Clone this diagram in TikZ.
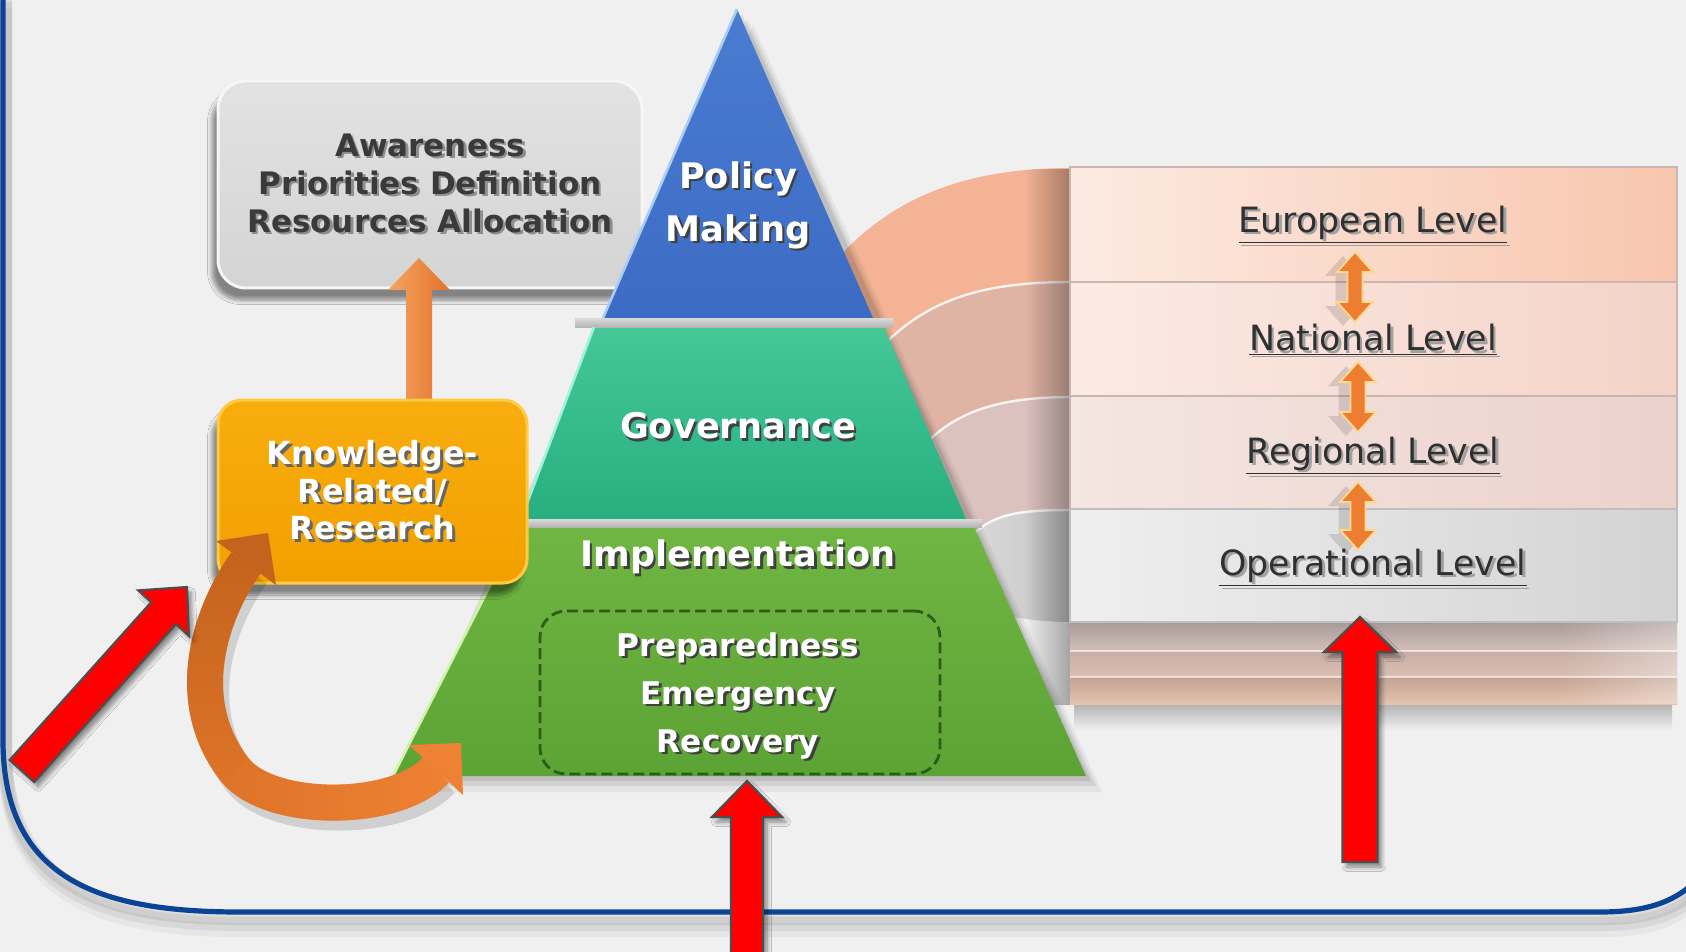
\documentclass[tikz,border=0pt]{standalone}
\usepackage{fontspec}
\setmainfont{DejaVu Sans}
\usetikzlibrary{shadows.blur,fadings}
\definecolor{bgc}{HTML}{F0F0F0}
\definecolor{frameblue}{HTML}{0B4496}
\definecolor{awtop}{HTML}{E2E2E2}
\definecolor{awbot}{HTML}{D4D4D4}
\definecolor{awborder}{HTML}{F6F6F6}
\definecolor{awtext}{HTML}{3A3A3A}
\definecolor{awsh}{HTML}{8E8E8E}
\definecolor{kntop}{HTML}{F8AD0E}
\definecolor{knbot}{HTML}{F2A000}
\definecolor{knborder}{HTML}{FFCB45}
\definecolor{orL}{HTML}{F6A462}
\definecolor{orR}{HTML}{E2732A}
\definecolor{blA}{HTML}{4A7CD2}
\definecolor{blB}{HTML}{3C6BC3}
\definecolor{hlblue}{HTML}{A9CDF5}
\definecolor{teA}{HTML}{45C797}
\definecolor{teB}{HTML}{27AF80}
\definecolor{hlteal}{HTML}{9FF2DE}
\definecolor{grA}{HTML}{70B642}
\definecolor{grB}{HTML}{5CA335}
\definecolor{hlgreen}{HTML}{CFF5A8}
\definecolor{sepA}{HTML}{DADADA}
\definecolor{sepB}{HTML}{B5B5B5}
\definecolor{dashgreen}{HTML}{2D5C18}
\definecolor{bandA}{HTML}{F3B394}
\definecolor{bandB}{HTML}{E0B4A5}
\definecolor{bandC}{HTML}{DCC2BF}
\definecolor{bandDa}{HTML}{DCDCDC}
\definecolor{bandDb}{HTML}{C4C4C4}
\definecolor{euA}{HTML}{FCEAE2}
\definecolor{euB}{HTML}{F8C6AE}
\definecolor{naA}{HTML}{FBEAE4}
\definecolor{naB}{HTML}{F4D3C8}
\definecolor{reA}{HTML}{F4E6E2}
\definecolor{reB}{HTML}{ECD1CB}
\definecolor{opA}{HTML}{EFEFEF}
\definecolor{opB}{HTML}{D3D3D3}
\definecolor{rowline}{HTML}{C9B6AF}
\definecolor{thAa}{HTML}{A89A98}
\definecolor{thAb}{HTML}{D3BFB8}
\definecolor{thBa}{HTML}{C6ADA5}
\definecolor{thBb}{HTML}{DCBFB2}
\definecolor{thCa}{HTML}{C2A293}
\definecolor{thCb}{HTML}{E6C3AF}
\definecolor{dao}{HTML}{ED7D31}
\definecolor{daedge}{HTML}{FFD88F}
\definecolor{arrred}{HTML}{FF0000}
\definecolor{redge}{HTML}{4D4D4D}
\definecolor{cvA}{HTML}{C4631D}
\definecolor{cvM}{HTML}{DE7429}
\definecolor{cvB}{HTML}{EF8134}
\definecolor{txtdark}{HTML}{303030}
\definecolor{lvsh}{HTML}{A0A0A0}
\tikzfading[name=fadeleft, left color=transparent!100, right color=transparent!0]
\tikzfading[name=fadedown, top color=transparent!0, bottom color=transparent!100]
\tikzfading[name=faderight, left color=transparent!100, right color=transparent!0]
\newcommand{\tsh}[2]{\rlap{\kern1.3pt\raisebox{-1.3pt}{\textcolor{#1}{#2}}}#2}
\begin{document}
\begin{tikzpicture}[x=0.5pt,y=-0.5pt,line join=miter,
  redarrow/.style={fill=arrred, draw=redge, line width=1.1pt,
     blur shadow={shadow xshift=2pt, shadow yshift=-2.5pt, shadow blur steps=6, shadow opacity=45}},
  dblarrow/.style={fill=dao, draw=daedge, line width=0.9pt},
  lvl/.style={font=\fontsize{17.4}{20}\selectfont, text=txtdark, inner sep=0pt},
  pyr/.style={font=\bfseries\fontsize{17.6}{26.5}\selectfont, text=white, align=center, inner sep=0pt},
  pyrsub/.style={font=\bfseries\fontsize{15.6}{24}\selectfont, text=white, align=center, inner sep=0pt},
  rowbox/.style={draw=rowline, line width=0.6pt}]

\useasboundingbox (0,0) rectangle (1686,952);
\fill[bgc] (0,0) rectangle (1686,952);

% ---------- frame ----------
\foreach \s/\o in {9/0.04,6/0.06,3/0.08}{
  \draw[black, opacity=\o, line width=7pt, transform canvas={shift={(1pt,-\s pt)}}]
    (3,-10) -- (3,740) .. controls (3,880) and (100,912) .. (240,912) -- (1600,912) .. controls (1660,912) and (1690,895) .. (1712,860);
}
\draw[frameblue, line width=2.6pt]
    (3,-10) -- (3,740) .. controls (3,880) and (100,912) .. (240,912) -- (1600,912) .. controls (1660,912) and (1690,895) .. (1712,860);

% ---------- arcs (ribbons) ----------
\fill[bandA] (1072,168) .. controls (960,168) and (880,200) .. (820,280) -- (820,420) -- (1072,420) -- cycle;
\fill[bandB] (1072,282) .. controls (980,282) and (920,300) .. (870,360) -- (870,520) -- (1072,520) -- cycle;
\draw[white, opacity=.85, line width=1.2pt] (1072,282) .. controls (980,282) and (920,300) .. (870,360);
\fill[bandC] (1072,397) .. controls (990,397) and (940,415) .. (905,470) -- (905,560) -- (1072,560) -- cycle;
\draw[white, opacity=.85, line width=1.2pt] (1072,397) .. controls (990,397) and (940,415) .. (905,470);
\shade[left color=bandDa, right color=bandDb] (1072,510) .. controls (1010,510) and (985,515) .. (960,550) -- (960,600) .. controls (990,615) and (1030,622) .. (1072,622) -- cycle;
\draw[white, opacity=.85, line width=1.2pt] (1072,510) .. controls (1010,510) and (985,515) .. (960,550);
\fill[black, opacity=0.32, path fading=fadeleft] (1025,169) rectangle (1071,705);

% ---------- level stack ----------
\shade[top color=black!30, bottom color=bgc] (1074,704) rectangle (1672,730);
\shade[top color=thAa, bottom color=thAb] (1070,622) rectangle (1677,651);
\shade[top color=thBa, bottom color=thBb] (1070,651) rectangle (1677,677);
\shade[top color=thCa, bottom color=thCb] (1070,677) rectangle (1677,704);
\fill[white, opacity=.35, path fading=faderight] (1560,622) rectangle (1677,704);
\draw[white, opacity=.6, line width=0.8pt] (1070,651) -- (1677,651) (1070,677) -- (1677,677);
\shade[left color=euA, right color=euB] (1070,167) rectangle (1677,282);
\shade[left color=naA, right color=naB] (1070,282) rectangle (1677,396);
\shade[left color=reA, right color=reB] (1070,396) rectangle (1677,509);
\shade[left color=opA, right color=opB] (1070,509) rectangle (1677,622);
\draw[rowbox] (1070,167) rectangle (1677,282);
\draw[rowbox] (1070,282) rectangle (1677,396);
\draw[rowbox] (1070,396) rectangle (1677,509);
\draw[draw=black!25, line width=0.6pt] (1070,509) rectangle (1677,622);

% ---------- awareness box ----------
\node[draw=awborder, line width=1.5pt, rounded corners=14pt, minimum width=212pt, minimum height=103.5pt,
      top color=awtop, bottom color=awbot, align=center, text=awtext,
      font=\bfseries\fontsize{15.5}{19}\selectfont,
      blur shadow={shadow xshift=-3pt, shadow yshift=-6pt, shadow blur steps=8, shadow opacity=45}]
   (aw) at (430,184.5) {\tsh{awsh}{Awareness}\\ \tsh{awsh}{Priorities Definition}\\ \tsh{awsh}{Resources Allocation}};

% ---------- up arrow knowledge -> awareness ----------
\coordinate (upTip) at (419,258);
\coordinate (upFoot) at (419,404);
\shade[left color=orL, right color=orR] (upTip) -- ++(31,32) -- ++(-18,0) -- (432,404) -- (406,404) -- (406,290) -- (388,290) -- cycle;

% ---------- pyramid ----------
\foreach \s/\o in {8/0.05,5/0.07,2.5/0.09}{
  \fill[black, opacity=\o, transform canvas={shift={(\s pt,-\s pt)}}] (737,9) -- (1086,776) -- (393,776) -- cycle;
}
\shade[top color=blA, bottom color=blB] (737,9) -- (873,318) -- (603,318) -- cycle;
\shade[top color=teA, bottom color=teB] (594,327) -- (884,327) -- (966,519) -- (521,519) -- cycle;
\shade[top color=grA, bottom color=grB] (520,527) -- (974,527) -- (1086,776) -- (393,776) -- cycle;
\shade[top color=sepA, bottom color=sepB] (575,318) rectangle (893,327);
\shade[top color=sepA, bottom color=sepB] (515,519) rectangle (982,527);
\draw[hlblue, line width=1.3pt] (737,9) -- (603,318);
\draw[hlteal, line width=1.3pt] (594,327) -- (521,519);
\draw[hlgreen, line width=1.3pt] (520,527) -- (393,776);

\node[pyr] (policy) at (738,206.5) {\tsh{black!75}{Policy}\\ \tsh{black!75}{Making}};
\node[pyr] (gov) at (738,427) {\tsh{black!75}{Governance}};
\node[pyr] (impl) at (738,558) {\tsh{black!75}{Implementation}};
\node[draw=dashgreen, dash pattern=on 5.5pt off 2.5pt, line width=1.4pt, rounded corners=13pt,
      minimum width=200pt, minimum height=81.5pt] (dbox) at (740,692.5) {};
\node[pyrsub] (prep) at (738,697) {\tsh{black!75}{Preparedness}\\ \tsh{black!75}{Emergency}\\ \tsh{black!75}{Recovery}};

% ---------- knowledge box ----------
\node[draw=knborder, line width=1.5pt, rounded corners=12pt, minimum width=154.5pt, minimum height=91.5pt,
      top color=kntop, bottom color=knbot, align=center, text=white,
      font=\bfseries\fontsize{15.9}{18.8}\selectfont,
      blur shadow={shadow xshift=-3pt, shadow yshift=-6pt, shadow blur steps=8, shadow opacity=45}]
   (kn) at (372.5,491.5) {\tsh{black!60}{Knowledge-}\\ \tsh{black!60}{Related/}\\ \tsh{black!60}{Research}};

% ---------- curved orange arrow (knowledge <-> implementation) ----------
\coordinate (cvTop) at (246,563);
\coordinate (cvBot) at (436,770);
\draw[black, opacity=.13, line width=18pt, transform canvas={shift={(3pt,-5pt)}}]
   (cvTop) .. controls (211,612) and (180,700) .. (235,770) .. controls (269,813) and (395,814) .. (cvBot);
\draw[cvM, line width=18pt] (cvTop) .. controls (211,612) and (180,700) .. (235,770) .. controls (269,813) and (395,814) .. (cvBot);
\draw[cvA, line width=18pt, path fading=fadedown] (cvTop) .. controls (211,612) and (180,700) .. (235,770);
\draw[cvB, line width=18pt, path fading=faderight] (235,770) .. controls (269,813) and (395,814) .. (cvBot);
\fill[cvA] (216,541) -- (268,533) -- (276,585) -- cycle;
\fill[cvB] (409,745) -- (461,743) -- (463,795) -- cycle;

% ---------- red arrows ----------
\path[redarrow] (9.7,760) -- (151.3,602.1) -- (138.3,590.4) -- (187,587) -- (188.9,635.8) -- (175.9,624.1) -- (34.3,782) -- cycle;
\path[redarrow] (747,781) -- (782,817) -- (763,817) -- (763,968) -- (731,968) -- (731,817) -- (712,817) -- cycle;
\path[redarrow] (1360,617) -- (1396,652) -- (1377.5,652) -- (1377.5,862) -- (1342.5,862) -- (1342.5,652) -- (1324,652) -- cycle;

% ---------- level labels & double arrows ----------
\foreach \cx/\t/\b in {1355/252/322, 1358/362/432, 1358/482/550}{
  \fill[black, opacity=.12, transform canvas={shift={(-6pt,-2pt)}}]
    (\cx,\t) -- (\cx+18,\t+20) -- (\cx+7.5,\t+20) -- (\cx+7.5,\b-20) -- (\cx+18,\b-20) -- (\cx,\b) -- (\cx-18,\b-20) -- (\cx-7.5,\b-20) -- (\cx-7.5,\t+20) -- (\cx-18,\t+20) -- cycle;
  \path[dblarrow]
    (\cx,\t) -- (\cx+18,\t+20) -- (\cx+7.5,\t+20) -- (\cx+7.5,\b-20) -- (\cx+18,\b-20) -- (\cx,\b) -- (\cx-18,\b-20) -- (\cx-7.5,\b-20) -- (\cx-7.5,\t+20) -- (\cx-18,\t+20) -- cycle;
}
\node[lvl] (eu) at (1373,226) {\tsh{lvsh}{\underline{European Level}}};
\node[lvl] (na) at (1373,341) {\tsh{lvsh}{\underline{National Level}}};
\node[lvl] (re) at (1373,457) {\tsh{lvsh}{\underline{Regional Level}}};
\node[lvl] (op) at (1373,569) {\tsh{lvsh}{\underline{Operational Level}}};
\end{tikzpicture}
\end{document}
